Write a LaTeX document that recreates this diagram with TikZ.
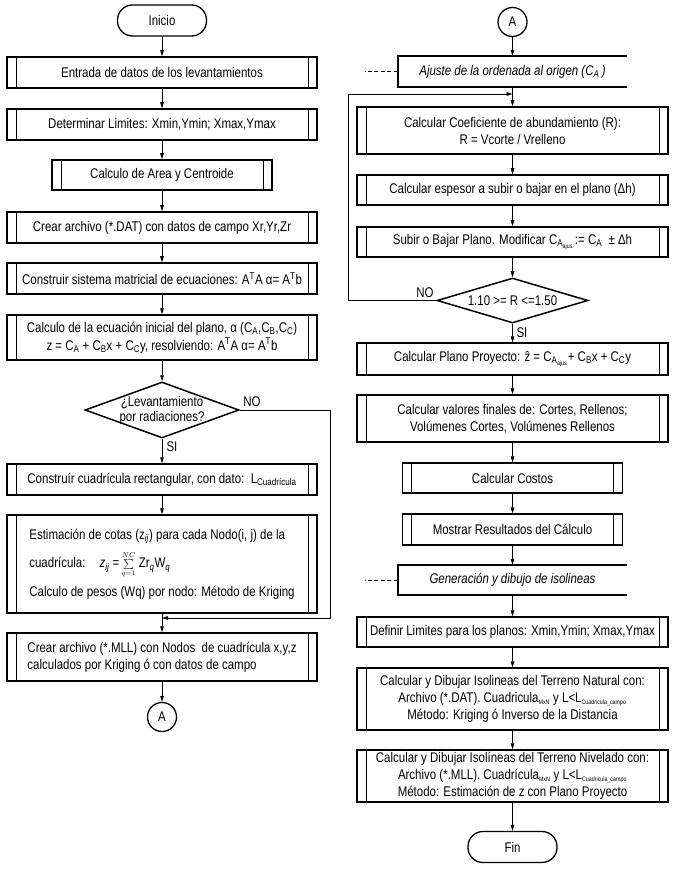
\documentclass[tikz,border=0pt]{standalone}
\usepackage{fontspec}
\setmainfont[FakeStretch=0.82]{Liberation Sans}
\usetikzlibrary{arrows.meta,shapes.geometric}
\newcommand{\tinysub}[1]{\textsubscript{\fontsize{6.5}{6.5}\selectfont #1}}
\begin{document}
\begin{tikzpicture}[x=1pt,y=-1pt,
  txt/.style={font=\fontsize{14}{17}\selectfont, inner sep=1pt},
  pbox/.style={txt, draw, line width=1.5pt, inner sep=2pt, align=center},
  proc/.style={pbox, path picture={
     \draw[line width=0.8pt] ([xshift=9pt]path picture bounding box.north west) -- ([xshift=9pt]path picture bounding box.south west);
     \draw[line width=0.8pt] ([xshift=-9pt]path picture bounding box.north east) -- ([xshift=-9pt]path picture bounding box.south east);}},
  wideL/.style={proc, minimum width=310, minimum height=31},
  wideR/.style={proc, minimum width=311, minimum height=31},
  term/.style={txt, draw, line width=1.3pt, rounded corners=15pt, minimum width=89, minimum height=31},
  conn/.style={txt, draw, circle, line width=1.3pt, minimum size=29, inner sep=0pt},
  dec/.style={draw, diamond, line width=1.5pt, inner sep=0pt},
  ann/.style={txt, font=\fontsize{14}{17}\selectfont\itshape, minimum width=229, minimum height=31},
  bracket/.style={line width=1.5pt},
  dashl/.style={line width=0.7pt, dash pattern=on 4pt off 2.5pt},
  arr/.style={line width=0.7pt, -{Triangle[length=6pt,width=3.6pt]}},
  lab/.style={txt}
]
\fill[white] (0,0) rectangle (677,874);
\useasboundingbox (0,0) rectangle (677,874);

% ---------- left column ----------
\node[term] (ini) at (162,20.5) {Inicio};
\node[wideL] (b1) at (162,72.5) {Entrada de datos de los levantamientos};
\node[wideL] (b2) at (162,124.5) {Determinar Limites: Xmin,Ymin; Xmax,Ymax};
\node[proc, minimum width=220, minimum height=30] (b3) at (162,175) {Calculo de Area y Centroide};
\node[wideL] (b4) at (162,227.5) {Crear archivo (*.DAT) con datos de campo Xr,Yr,Zr};
\node[wideL] (b5) at (162,278.5) {Construir sistema matricial de ecuaciones: A\textsuperscript{T}A α= A\textsuperscript{T}b};
\node[wideL, minimum height=45] (b6) at (162,337.5) {Calculo de la ecuación inicial del plano, α (C\textsubscript{A},C\textsubscript{B},C\textsubscript{C})\\[1pt] z = C\textsubscript{A} + C\textsubscript{B}x + C\textsubscript{C}y, resolviendo: A\textsuperscript{T}A α= A\textsuperscript{T}b};
\node[dec, minimum width=154, minimum height=56] (d1) at (162,410) {};
\node[txt, align=center, font=\fontsize{14}{15}\selectfont] (d1t) at (162,410) {¿Levantamiento\\por radiaciones?};
\node[wideL] (b7) at (162,479.5) {Construír cuadrícula rectangular, con dato:\ \ L\textsubscript{Cuadrícula}};
\node[wideL, minimum height=98, align=left] (b8) at (162,564) {Estimación de cotas (z\textsubscript{\textit{ij}}) para cada Nodo(i, j) de la\\[7pt]
cuadrícula:\hspace{14pt}\textit{z\textsubscript{ij}} =\,$\sum\limits_{\scriptscriptstyle q=1}^{\scriptscriptstyle NC}$ Zr\textsubscript{\textit{q}}W\textsubscript{\textit{q}}\\[7pt]
Calculo de pesos (Wq) por nodo: Método de Kriging};
\coordinate (m1) at (162,618);
\coordinate (noR) at (330,618);
\node[wideL, minimum height=48, align=left] (b9) at (162,657) {Crear archivo (*.MLL) con Nodos\ \ de cuadrícula x,y,z\\ calculados por Kriging ó con datos de campo};
\node[conn] (ca) at (162,717) {A};

\node[lab] (si1) at (172,447) {SI};
\node[lab] (no1) at (252,402) {NO};

\draw[arr] (ini) -- (b1);
\draw[arr] (b1) -- (b2);
\draw[arr] (b2) -- (b3);
\draw[arr] (b3) -- (b4);
\draw[arr] (b4) -- (b5);
\draw[arr] (b5) -- (b6);
\draw[arr] (b6) -- (d1);
\draw[arr] (d1) -- (b7);
\draw[arr] (b7) -- (b8);
\draw[arr] (b8) -- (b9);
\draw[arr] (d1.east) -| (noR) -- (m1);
\draw[arr] (b9) -- (ca);

% ---------- right column ----------
\node[conn] (cb) at (512.5,22) {A};
\node[ann] (a1) at (512.5,71.5) {Ajuste de la ordenada al origen (C\textsubscript{\textit{A}}\,)};
\draw[bracket] (a1.north east) -- (a1.north west) -- (a1.south west) -- (a1.south east);
\coordinate (a1d) at (365,71.5);
\draw[dashl] (a1.west) -- (a1d);
\coordinate (j1) at (512.5,94);
\coordinate (lp) at (348,94);
\node[wideR, minimum height=47] (r1) at (512.5,130.5) {Calcular Coeficiente de abundamiento (R):\\ R = Vcorte / Vrelleno};
\node[wideR, minimum height=30] (r2) at (512.5,190) {Calcular espesor a subir o bajar en el plano (Δh)};
\node[wideR, minimum height=30] (r3) at (512.5,242) {Subir o Bajar Plano. Modificar C\textsubscript{A\tinysub{ajus.}}:= C\textsubscript{A}\ \ ± Δh};
\node[dec, minimum width=151, minimum height=45] (d2) at (512.5,300.5) {};
\node[txt] (d2t) at (512.5,300.5) {1.10 >= R <=1.50};
\node[wideR, minimum height=32] (r4) at (512.5,359) {Calcular Plano Proyecto: ẑ = C\textsubscript{A\tinysub{ajus}}+ C\textsubscript{B}x + C\textsubscript{C}y};
\node[wideR, minimum height=47] (r5) at (512.5,418.5) {Calcular valores finales de: Cortes, Rellenos;\\ Volúmenes Cortes, Volúmenes Rellenos};
\node[proc, minimum width=220, minimum height=30] (r6) at (512.5,478) {Calcular Costos};
\node[proc, minimum width=220, minimum height=31] (r7) at (512.5,529.5) {Mostrar Resultados del Cálculo};
\node[ann, minimum height=30] (a2) at (512.5,580) {Generación y dibujo de isolineas};
\draw[bracket] (a2.north east) -- (a2.north west) -- (a2.south west) -- (a2.south east);
\coordinate (a2d) at (365,580);
\draw[dashl] (a2.west) -- (a2d);
\node[wideR, minimum height=30] (r8) at (512.5,632) {Definir Limites para los planos: Xmin,Ymin; Xmax,Ymax};
\node[wideR, minimum height=62] (r9) at (512.5,699) {Calcular y Dibujar Isolineas del Terreno Natural con:\\ Archivo (*.DAT). Cuadricula\tinysub{MxN}\ y L<L\tinysub{Cuadricula\_campo}\\ Método: Kriging ó Inverso de la Distancia};
\node[wideR, minimum height=52] (r10) at (512.5,776) {Calcular y Dibujar Isolíneas del Terreno Nivelado con:\\ Archivo (*.MLL). Cuadrícula\tinysub{MxN}\ y L<L\tinysub{Cuadricula\_campo}\\ Método: Estimación de z con Plano Proyecto};
\node[term] (fin) at (512.5,847) {Fin};

\node[lab] (no2) at (425,293) {NO};
\node[lab] (si2) at (522,333) {SI};

\draw[arr] (cb) -- (a1);
\draw[arr] (a1) -- (r1);
\draw[arr] (d2.west) -| (lp) -- (j1);
\draw[arr] (r1) -- (r2);
\draw[arr] (r2) -- (r3);
\draw[arr] (r3) -- (d2);
\draw[arr] (d2) -- (r4);
\draw[arr] (r4) -- (r5);
\draw[arr] (r5) -- (r6);
\draw[arr] (r6) -- (r7);
\draw[arr] (r7) -- (a2);
\draw[arr] (a2) -- (r8);
\draw[arr] (r8) -- (r9);
\draw[arr] (r9) -- (r10);
\draw[arr] (r10) -- (fin);
\end{tikzpicture}
\end{document}
